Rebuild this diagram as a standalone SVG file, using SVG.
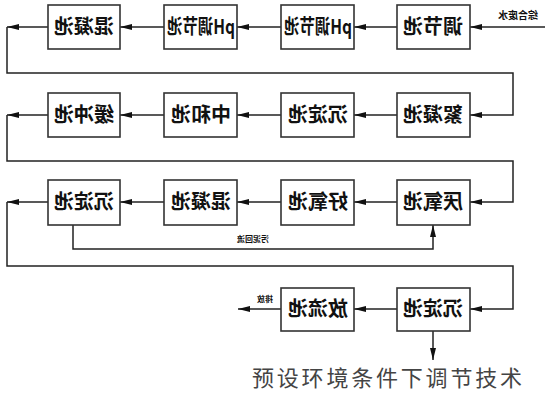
<svg xmlns="http://www.w3.org/2000/svg" width="549" height="400" viewBox="0 0 549 400">
<style>
.box{fill:#fff;stroke:#333;stroke-width:1.6}
.ln{fill:none;stroke:#222;stroke-width:1.5}
.t{font-family:"Noto Sans CJK SC","Noto Sans CJK TC",sans-serif;font-size:20px;font-weight:bold;fill:#111;text-anchor:middle}
.s{font-family:"Noto Sans CJK SC",sans-serif;font-weight:bold;fill:#111;text-anchor:middle}
</style>
<defs>
<marker id="ah" markerUnits="userSpaceOnUse" markerWidth="12" markerHeight="7" refX="12" refY="3.5" orient="auto">
<path d="M0,0.5 L12,3.5 L0,6.5 z" fill="#111"/>
</marker>
</defs>
<rect width="549" height="400" fill="#fff"/>
<g id="connectors">
<line class="ln" x1="545" y1="27" x2="470" y2="27" marker-end="url(#ah)"/>
<line class="ln" x1="397" y1="27" x2="354" y2="27" marker-end="url(#ah)"/>
<line class="ln" x1="281" y1="27" x2="237" y2="27" marker-end="url(#ah)"/>
<line class="ln" x1="164" y1="27" x2="120" y2="27" marker-end="url(#ah)"/>
<line class="ln" x1="48" y1="27" x2="7" y2="27" marker-end="url(#ah)"/>
<polyline class="ln" points="7,27 7,73 513,73 513,115 470,115" marker-end="url(#ah)"/>
<line class="ln" x1="397" y1="115" x2="354" y2="115" marker-end="url(#ah)"/>
<line class="ln" x1="281" y1="115" x2="237" y2="115" marker-end="url(#ah)"/>
<line class="ln" x1="164" y1="115" x2="120" y2="115" marker-end="url(#ah)"/>
<line class="ln" x1="48" y1="115" x2="7" y2="115" marker-end="url(#ah)"/>
<polyline class="ln" points="7,115 7,161 513,161 513,202 470,202" marker-end="url(#ah)"/>
<line class="ln" x1="397" y1="202" x2="354" y2="202" marker-end="url(#ah)"/>
<line class="ln" x1="281" y1="202" x2="237" y2="202" marker-end="url(#ah)"/>
<line class="ln" x1="164" y1="202" x2="120" y2="202" marker-end="url(#ah)"/>
<line class="ln" x1="48" y1="202" x2="7" y2="202" marker-end="url(#ah)"/>
<polyline class="ln" points="7,202 7,266 513,266 513,309 470,309" marker-end="url(#ah)"/>
<polyline class="ln" points="73,225 73,249 433,249 433,225" marker-end="url(#ah)"/>
<line class="ln" x1="397" y1="309" x2="354" y2="309" marker-end="url(#ah)"/>
<line class="ln" x1="281" y1="309" x2="238" y2="309" marker-end="url(#ah)"/>
<line class="ln" x1="433" y1="331" x2="433" y2="360" marker-end="url(#ah)"/>
<text class="s" font-size="10" transform="scale(-1,1)" x="-518" y="19">综合废水</text>
<text class="s" font-size="8" transform="scale(-1,1)" x="-253" y="242">污泥回流</text>
<text class="s" font-size="8" transform="scale(-1,1)" x="-265" y="302">排放</text>
</g>
<g id="n1"><rect class="box" x="397" y="5" width="73" height="44"/><text class="t" transform="scale(-1,1)" x="-433" y="34">调节池</text></g>
<g id="n2"><rect class="box" x="281" y="5" width="73" height="44"/><text class="t" transform="scale(-1,1)" x="-318" y="34" textLength="68" lengthAdjust="spacingAndGlyphs">pH调节池</text></g>
<g id="n3"><rect class="box" x="164" y="5" width="73" height="44"/><text class="t" transform="scale(-1,1)" x="-201" y="34" textLength="68" lengthAdjust="spacingAndGlyphs">pH调节池</text></g>
<g id="n4"><rect class="box" x="48" y="5" width="72" height="44"/><text class="t" transform="scale(-1,1)" x="-84" y="34">混凝池</text></g>
<g id="n5"><rect class="box" x="397" y="93" width="73" height="44"/><text class="t" transform="scale(-1,1)" x="-433" y="122">絮凝池</text></g>
<g id="n6"><rect class="box" x="281" y="93" width="73" height="44"/><text class="t" transform="scale(-1,1)" x="-318" y="122">沉淀池</text></g>
<g id="n7"><rect class="box" x="164" y="93" width="73" height="44"/><text class="t" transform="scale(-1,1)" x="-201" y="122">中和池</text></g>
<g id="n8"><rect class="box" x="48" y="93" width="72" height="44"/><text class="t" transform="scale(-1,1)" x="-84" y="122">缓冲池</text></g>
<g id="n9"><rect class="box" x="397" y="180" width="73" height="45"/><text class="t" transform="scale(-1,1)" x="-433" y="209">厌氧池</text></g>
<g id="n10"><rect class="box" x="281" y="180" width="73" height="45"/><text class="t" transform="scale(-1,1)" x="-318" y="209">好氧池</text></g>
<g id="n11"><rect class="box" x="164" y="180" width="73" height="45"/><text class="t" transform="scale(-1,1)" x="-201" y="209">混凝池</text></g>
<g id="n12"><rect class="box" x="48" y="180" width="72" height="45"/><text class="t" transform="scale(-1,1)" x="-84" y="209">沉淀池</text></g>
<g id="n13"><rect class="box" x="397" y="288" width="73" height="43"/><text class="t" transform="scale(-1,1)" x="-433" y="316">沉淀池</text></g>
<g id="n14"><rect class="box" x="281" y="288" width="73" height="43"/><text class="t" transform="scale(-1,1)" x="-318" y="316">放流池</text></g>
<text x="252" y="386" font-family="Noto Sans CJK SC,sans-serif" font-size="22" fill="#444" textLength="270" lengthAdjust="spacing">预设环境条件下调节技术</text>
</svg>
